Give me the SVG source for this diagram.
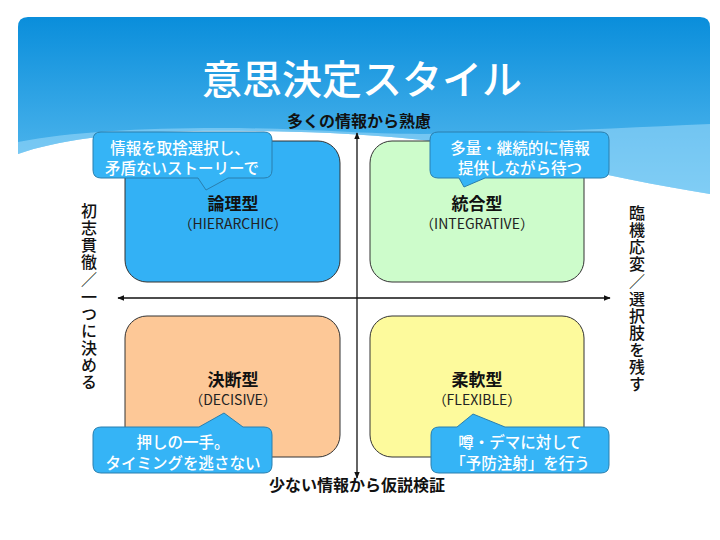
<svg xmlns="http://www.w3.org/2000/svg" width="720" height="540" viewBox="0 0 720 540">
<defs>
<linearGradient id="hdr" x1="0" y1="0" x2="0" y2="1">
<stop offset="0" stop-color="#0a8edb"/>
<stop offset="1" stop-color="#5cbdf0"/>
</linearGradient>
<marker id="arr" viewBox="0 0 10 10" refX="9" refY="5" markerWidth="7" markerHeight="7" orient="auto-start-reverse" markerUnits="userSpaceOnUse">
<path d="M0,1 L10,5 L0,9 Z" fill="#111"/>
</marker>
<style>
.jp{font-family:"Noto Sans CJK JP","Noto Sans",sans-serif;}
.title{font-size:40px;fill:#fff;font-weight:500;}
.axis{font-size:16px;fill:#111;font-weight:bold;}
.side{font-size:16px;fill:#111;font-weight:500;writing-mode:vertical-rl;letter-spacing:1.1px;}
.qn{font-size:17px;fill:#111;font-weight:bold;}
.qe{font-size:14px;fill:#222;}
.box{stroke:#333;stroke-width:1;}
.call{fill:#35b4f6;stroke:#2a7fae;stroke-width:1;}
.ct{font-size:15.5px;fill:#fff;font-weight:500;}
</style>
</defs>
<g id="header">
<path d="M28,17 L700,17 Q710,17 710,27 L710,194 C660,186 600,174 540,160 C470,144 400,136 330,133 C230,129 140,130 90,138 C60,142 38,147 18,154 L18,27 Q18,17 28,17 Z" fill="url(#hdr)"/>
<path d="M18,142 C70,132 140,128 220,128 C300,128 360,134 420,134 C520,133 620,128 710,124 L710,194 C660,186 600,174 540,160 C470,144 400,136 330,133 C230,129 140,130 90,138 C60,142 38,147 18,154 Z" fill="#9fdbfa" opacity="0.55"/>
<text class="jp title" x="362" y="77" text-anchor="middle" dominant-baseline="central">意思決定スタイル</text>
</g>
<g id="q-hierarchic">
<rect class="box" x="125" y="141" width="215" height="141" rx="22" fill="#33b1f5"/>
<text class="jp qn" x="233" y="202" text-anchor="middle" dominant-baseline="central">論理型</text>
<text class="jp qe" x="233" y="223" text-anchor="middle" dominant-baseline="central">（HIERARCHIC）</text>
</g>
<g id="q-integrative">
<rect class="box" x="370" y="141" width="214" height="141" rx="22" fill="#cdfccb"/>
<text class="jp qn" x="477" y="202" text-anchor="middle" dominant-baseline="central">統合型</text>
<text class="jp qe" x="477" y="223" text-anchor="middle" dominant-baseline="central">（INTEGRATIVE）</text>
</g>
<g id="q-decisive">
<rect class="box" x="125" y="316" width="215" height="141" rx="22" fill="#fdc897"/>
<text class="jp qn" x="233" y="378" text-anchor="middle" dominant-baseline="central">決断型</text>
<text class="jp qe" x="233" y="399" text-anchor="middle" dominant-baseline="central">（DECISIVE）</text>
</g>
<g id="q-flexible">
<rect class="box" x="370" y="316" width="214" height="141" rx="22" fill="#fdfa9c"/>
<text class="jp qn" x="477" y="378" text-anchor="middle" dominant-baseline="central">柔軟型</text>
<text class="jp qe" x="477" y="399" text-anchor="middle" dominant-baseline="central">（FLEXIBLE）</text>
</g>
<g id="connectors">
<line x1="357" y1="478" x2="357" y2="133" stroke="#111" stroke-width="1.3" marker-start="url(#arr)" marker-end="url(#arr)"/>
<line x1="118" y1="298" x2="610" y2="298" stroke="#111" stroke-width="1.3" marker-start="url(#arr)" marker-end="url(#arr)"/>
</g>
<g id="axis-top"><text class="jp axis" x="359" y="120" text-anchor="middle" dominant-baseline="central">多くの情報から熟慮</text></g>
<g id="axis-bottom"><text class="jp axis" x="357" y="484" text-anchor="middle" dominant-baseline="central">少ない情報から仮説検証</text></g>
<g id="axis-left">
<text class="jp side" x="89" y="203">初志貫徹／一つに決める</text>
</g>
<g id="axis-right">
<text class="jp side" x="637" y="205">臨機応変／選択肢を残す</text>
</g>
<g id="callout-hierarchic">
<path class="call" d="M101,132 L264,132 Q272,132 272,140 L272,170 Q272,178 264,178 L228,178 L206,190 L198,178 L101,178 Q93,178 93,170 L93,140 Q93,132 101,132 Z"/>
<text class="jp ct" x="180" y="147" text-anchor="middle" dominant-baseline="central">情報を取捨選択し、</text>
<text class="jp ct" x="182" y="167" text-anchor="middle" dominant-baseline="central">矛盾ないストーリーで</text>
</g>
<g id="callout-integrative">
<path class="call" d="M438,132 L601,132 Q609,132 609,140 L609,170 Q609,178 601,178 L485,178 L464,187 L459,178 L438,178 Q430,178 430,170 L430,140 Q430,132 438,132 Z"/>
<text class="jp ct" x="520" y="147" text-anchor="middle" dominant-baseline="central">多量・継続的に情報</text>
<text class="jp ct" x="520" y="167" text-anchor="middle" dominant-baseline="central">提供しながら待つ</text>
</g>
<g id="callout-decisive">
<path class="call" d="M101,427 L199,427 L224,413 L243,427 L264,427 Q272,427 272,435 L272,465 Q272,473 264,473 L101,473 Q93,473 93,465 L93,435 Q93,427 101,427 Z"/>
<text class="jp ct" x="183" y="441" text-anchor="middle" dominant-baseline="central">押しの一手。</text>
<text class="jp ct" x="183" y="462" text-anchor="middle" dominant-baseline="central">タイミングを逃さない</text>
</g>
<g id="callout-flexible">
<path class="call" d="M439,427 L457,427 L473,414 L505,427 L601,427 Q609,427 609,435 L609,465 Q609,473 601,473 L439,473 Q431,473 431,465 L431,435 Q431,427 439,427 Z"/>
<text class="jp ct" x="520" y="441" text-anchor="middle" dominant-baseline="central">噂・デマに対して</text>
<text class="jp ct" x="520" y="462" text-anchor="middle" dominant-baseline="central">「予防注射」を行う</text>
</g>
</svg>
